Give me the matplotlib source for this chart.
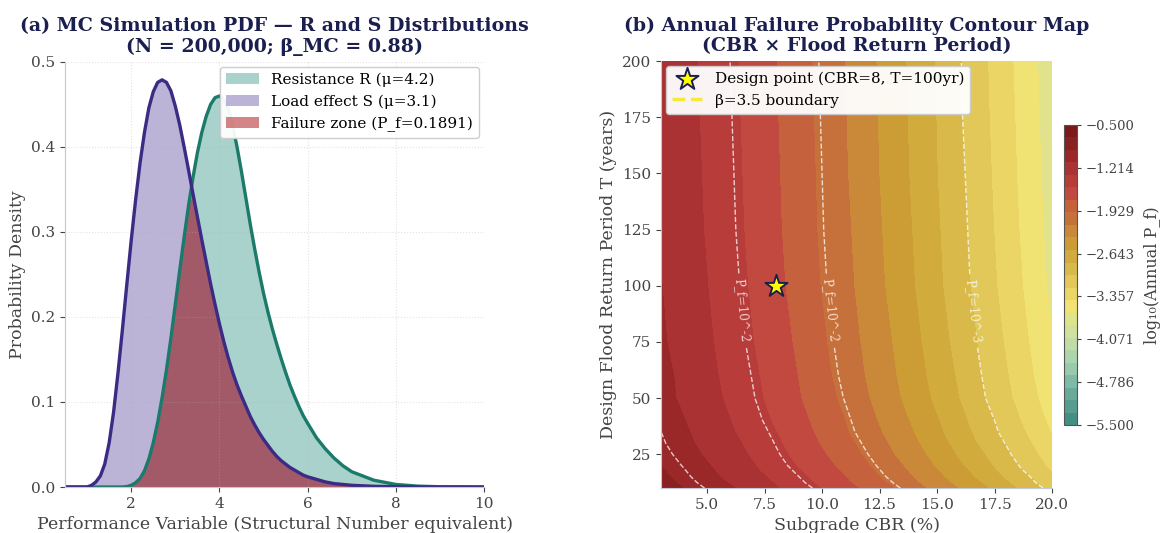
import matplotlib
matplotlib.use("Agg")
import matplotlib.pyplot as plt
import numpy as np
from matplotlib.colors import LinearSegmentedColormap
from matplotlib.lines import Line2D
from matplotlib.ticker import FuncFormatter, MultipleLocator, FormatStrFormatter

plt.rcParams['font.family'] = ['DejaVu Serif', 'DejaVu Sans']

# ---------- (a) PDF curves ----------
x_perf = [0.5, 0.8, 1.0, 1.1, 1.2, 1.3, 1.4, 1.5, 1.6, 1.7, 1.8, 1.9, 2.0, 2.1, 2.2,
          2.3, 2.4, 2.5, 2.6, 2.7, 2.8, 2.9, 3.0, 3.1, 3.2, 3.3, 3.4, 3.5, 3.6, 3.7,
          3.8, 3.9, 4.0, 4.1, 4.2, 4.3, 4.4, 4.5, 4.6, 4.7, 4.8, 4.9, 5.0, 5.1, 5.2,
          5.3, 5.4, 5.5, 5.6, 5.7, 5.8, 5.9, 6.0, 6.2, 6.4, 6.6, 6.8, 7.0, 7.5, 8.0,
          8.5, 9.0, 10.0]
pdf_S = [0, 0, 0, 0.002, 0.006, 0.013, 0.027, 0.052, 0.088, 0.134, 0.185, 0.238,
         0.290, 0.338, 0.381, 0.417, 0.446, 0.465, 0.476, 0.479, 0.476, 0.466, 0.448,
         0.426, 0.400, 0.373, 0.345, 0.318, 0.291, 0.265, 0.239, 0.215, 0.192, 0.171,
         0.152, 0.135, 0.120, 0.107, 0.095, 0.083, 0.073, 0.064, 0.056, 0.049, 0.042,
         0.036, 0.031, 0.027, 0.023, 0.020, 0.017, 0.014, 0.012, 0.009, 0.006, 0.004,
         0.003, 0.002, 0.0008, 0.0003, 0.0001, 0, 0]
pdf_R = [0, 0, 0, 0, 0, 0, 0, 0, 0, 0, 0, 0.0005, 0.002, 0.005, 0.010, 0.019, 0.033,
         0.052, 0.076, 0.105, 0.138, 0.175, 0.215, 0.255, 0.294, 0.331, 0.364, 0.393,
         0.417, 0.436, 0.450, 0.458, 0.460, 0.456, 0.445, 0.425, 0.400, 0.371, 0.340,
         0.309, 0.280, 0.253, 0.228, 0.206, 0.186, 0.168, 0.151, 0.135, 0.120, 0.107,
         0.095, 0.084, 0.075, 0.058, 0.045, 0.034, 0.025, 0.018, 0.008, 0.003, 0.001,
         0.0003, 0]
mu_R, mu_S, p_f = 4.2, 3.1, 0.1891

# ---------- (b) log10 annual Pf grid ----------
cbr = [3, 4, 5, 6, 7, 8, 9, 10, 11, 12, 13, 14, 15, 16, 17, 18, 19, 20]
T_years = [10, 12.5, 15, 17.5, 20, 25, 30, 35, 40, 50, 60, 75, 100, 125, 150, 175, 200]
log_pf = [
    [-0.83, -0.92, -1.01, -1.10, -1.21, -1.32, -1.43, -1.55, -1.67, -1.81, -1.94, -2.09, -2.24, -2.39, -2.55, -2.72, -2.89, -3.07],
    [-0.86, -0.95, -1.04, -1.14, -1.24, -1.35, -1.47, -1.59, -1.72, -1.85, -1.99, -2.14, -2.29, -2.44, -2.60, -2.77, -2.95, -3.13],
    [-0.88, -0.97, -1.07, -1.17, -1.27, -1.38, -1.50, -1.62, -1.75, -1.89, -2.03, -2.18, -2.33, -2.49, -2.65, -2.82, -2.99, -3.18],
    [-0.90, -0.99, -1.09, -1.19, -1.30, -1.41, -1.53, -1.65, -1.78, -1.92, -2.06, -2.21, -2.36, -2.52, -2.69, -2.86, -3.04, -3.22],
    [-0.92, -1.01, -1.11, -1.21, -1.32, -1.44, -1.56, -1.68, -1.81, -1.95, -2.09, -2.24, -2.40, -2.56, -2.72, -2.90, -3.08, -3.26],
    [-0.95, -1.05, -1.15, -1.25, -1.36, -1.48, -1.60, -1.73, -1.86, -2.00, -2.15, -2.30, -2.45, -2.62, -2.78, -2.96, -3.14, -3.32],
    [-0.98, -1.08, -1.18, -1.28, -1.39, -1.51, -1.64, -1.77, -1.90, -2.04, -2.19, -2.34, -2.50, -2.67, -2.84, -3.01, -3.19, -3.38],
    [-1.00, -1.10, -1.20, -1.31, -1.42, -1.54, -1.67, -1.80, -1.94, -2.08, -2.23, -2.38, -2.54, -2.71, -2.88, -3.06, -3.24, -3.43],
    [-1.02, -1.12, -1.22, -1.33, -1.45, -1.57, -1.69, -1.83, -1.96, -2.11, -2.26, -2.41, -2.57, -2.74, -2.91, -3.09, -3.28, -3.47],
    [-1.06, -1.16, -1.26, -1.37, -1.49, -1.61, -1.74, -1.87, -2.01, -2.16, -2.31, -2.47, -2.63, -2.80, -2.98, -3.16, -3.34, -3.54],
    [-1.07, -1.17, -1.28, -1.39, -1.51, -1.63, -1.76, -1.90, -2.04, -2.19, -2.34, -2.50, -2.66, -2.83, -3.01, -3.19, -3.38, -3.57],
    [-1.10, -1.20, -1.30, -1.42, -1.54, -1.66, -1.79, -1.93, -2.07, -2.22, -2.37, -2.53, -2.70, -2.87, -3.05, -3.23, -3.42, -3.61],
    [-1.12, -1.23, -1.33, -1.45, -1.57, -1.70, -1.83, -1.97, -2.11, -2.26, -2.42, -2.58, -2.75, -2.92, -3.10, -3.28, -3.47, -3.67],
    [-1.14, -1.24, -1.35, -1.47, -1.59, -1.72, -1.85, -1.99, -2.13, -2.28, -2.44, -2.60, -2.77, -2.94, -3.12, -3.31, -3.50, -3.70],
    [-1.15, -1.25, -1.36, -1.48, -1.60, -1.73, -1.86, -2.00, -2.15, -2.30, -2.46, -2.62, -2.79, -2.96, -3.14, -3.33, -3.52, -3.72],
    [-1.16, -1.26, -1.37, -1.49, -1.61, -1.74, -1.87, -2.01, -2.16, -2.31, -2.47, -2.63, -2.80, -2.98, -3.16, -3.34, -3.54, -3.73],
    [-1.16, -1.27, -1.38, -1.50, -1.62, -1.75, -1.88, -2.02, -2.17, -2.32, -2.48, -2.64, -2.81, -2.99, -3.17, -3.36, -3.55, -3.75],
]
pf_lines = [-3.0, -2.0, -1.5, -1.0]
design_cbr, design_T = 8, 100
cb_min, cb_max = -5.5, -0.5

navy = '#1b1f4f'
grey = '#444444'

fig = plt.figure(figsize=(11.68, 5.33), dpi=100)

# ---------- panel (a) ----------
ax1 = fig.add_axes([0.0557, 0.0863, 0.3587, 0.7974])
x = np.array(x_perf)
r = np.array(pdf_R)
s = np.array(pdf_S)
ax1.fill_between(x, r, color='#2a8f80', alpha=0.4, lw=0, label=f'Resistance R (μ={mu_R})')
ax1.fill_between(x, s, color='#7b6bb0', alpha=0.5, lw=0, label=f'Load effect S (μ={mu_S})')
ax1.fill_between(x, np.minimum(r, s), color='#b22222', alpha=0.55, lw=0,
                 label=f'Failure zone (P_f={p_f})')
ax1.plot(x, r, color='#1b7a6a', lw=2.4, solid_joinstyle='round')
ax1.plot(x, s, color='#3b2b85', lw=2.4, solid_joinstyle='round')
ax1.set_xlim(0.5, 10)
ax1.set_ylim(0, 0.5)
ax1.set_xticks([2, 4, 6, 8, 10])
ax1.grid(True, ls=':', lw=0.8, alpha=0.35)
ax1.set_xlabel('Performance Variable (Structural Number equivalent)', fontsize=12.5, color=grey)
ax1.set_ylabel('Probability Density', fontsize=12.5, color=grey)
ax1.set_title('(a) MC Simulation PDF — R and S Distributions\n(N = 200,000; β_MC = 0.88)',
              fontsize=13.7, fontweight='bold', color=navy, pad=7)
ax1.legend(loc='upper right', fontsize=11, framealpha=0.95, edgecolor='#cccccc',
           borderaxespad=0.3, handlelength=2.2)

# ---------- panel (b) ----------
ax2 = fig.add_axes([0.566, 0.0844, 0.3347, 0.8011])
cmap = LinearSegmentedColormap.from_list('pf', [
    (0.00, '#3a887c'), (0.12, '#72b09e'), (0.20, '#9fd0b0'), (0.28, '#c4dea6'),
    (0.36, '#e4e48a'), (0.40, '#f2e272'), (0.45, '#e8d262'), (0.50, '#dcc050'),
    (0.55, '#d4b040'), (0.60, '#cc9f35'), (0.65, '#c98838'), (0.69, '#c6713c'),
    (0.74, '#c55d3c'), (0.78, '#c04540'), (0.83, '#b43838'), (0.87, '#a52e2e'),
    (0.93, '#8e2222'), (1.00, '#761616')])
levels = np.linspace(cb_min, cb_max, 25)
cf = ax2.contourf(cbr, T_years, log_pf, levels=levels, cmap=cmap)
cs = ax2.contour(cbr, T_years, log_pf, levels=pf_lines, colors='white',
                 linestyles='--', linewidths=1.0, alpha=0.75)
ax2.clabel(cs, levels=pf_lines[:3], inline=True, fontsize=8.5,
           fmt=lambda v: f'P_f=10^{v:.0f}',
           manual=[(6.45, 89), (10.35, 89), (16.75, 89)])
ax2.scatter([design_cbr], [design_T], marker='*', s=280, c='#ffff00',
            edgecolors=navy, linewidths=1.4, zorder=5,
            label=f'Design point (CBR={design_cbr}, T={design_T}yr)')
beta_handle = Line2D([], [], color='#f4ea3c', ls='--', lw=2.5)
h, l = ax2.get_legend_handles_labels()
ax2.legend(h + [beta_handle], l + ['β=3.5 boundary'], loc='upper left', fontsize=11,
           framealpha=0.95, edgecolor='#cccccc', borderaxespad=0.3)
ax2.set_xlim(3, 20)
ax2.set_ylim(10, 200)
ax2.xaxis.set_major_locator(MultipleLocator(2.5))
ax2.xaxis.set_major_formatter(FormatStrFormatter('%.1f'))
ax2.set_xlabel('Subgrade CBR (%)', fontsize=12.5, color=grey)
ax2.set_ylabel('Design Flood Return Period T (years)', fontsize=12.5, color=grey)
ax2.set_title('(b) Annual Failure Probability Contour Map\n(CBR × Flood Return Period)',
              fontsize=13.7, fontweight='bold', color=navy, pad=7)

cax = fig.add_axes([0.911, 0.2026, 0.011, 0.5629])
cb = fig.colorbar(cf, cax=cax)
cb.set_ticks(np.linspace(cb_min, cb_max, 8))
cb.ax.yaxis.set_major_formatter(FuncFormatter(lambda v, p: f'{v:.3f}'.replace('-', '\u2212')))
cb.ax.tick_params(labelsize=9.5, colors=grey, length=3)
cb.set_label('log₁₀(Annual P_f)', fontsize=11.5, color=grey, labelpad=6)
cb.outline.set_edgecolor('#555555')

for ax in (ax1, ax2):
    for side in ('top', 'right'):
        ax.spines[side].set_visible(False)
    for side in ('left', 'bottom'):
        ax.spines[side].set_color('#c0c8da')
    ax.tick_params(labelsize=11, colors=grey, length=3.5)

fig.savefig('out.png', dpi=100)
